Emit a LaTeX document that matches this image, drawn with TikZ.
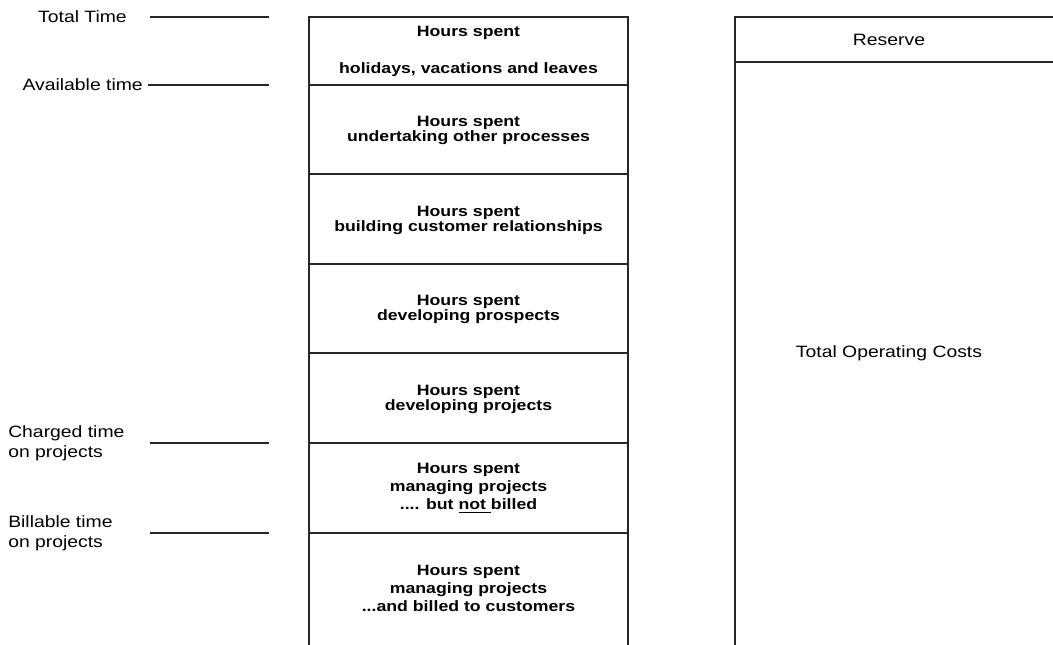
\documentclass[tikz,border=0pt]{standalone}
\usepackage{fontspec}
\setmainfont{Liberation Sans}[FakeStretch=1.18]
\begin{document}
\begin{tikzpicture}[x=0.75pt,y=-0.75pt,
  rule/.style={draw=black!85,line width=1pt},
  lab/.style={font=\fontsize{12.3}{15}\selectfont,inner sep=0pt,align=left},
  cellA/.style={font=\bfseries\fontsize{11.25}{11.25}\selectfont,inner sep=0pt,align=center},
  cellB/.style={font=\bfseries\fontsize{11.25}{13.5}\selectfont,inner sep=0pt,align=center},
  plain/.style={font=\fontsize{12.3}{15}\selectfont,inner sep=0pt}]
\useasboundingbox (0,0) rectangle (1053,644);
\clip (0,0) rectangle (1053,644);
\fill[white] (0,0) rectangle (1053,644);

% central column
\draw[rule] (309,650) -- (309,17) -- (628,17) -- (628,650);
\foreach \yy in {85,174,264,353,443,533}
  \draw[rule] (309,\yy) -- (628,\yy);

\node[cellA] (c1) at (468.5,51.5) {Hours spent\\[16.5pt]holidays, vacations and leaves};
\node[cellA] (c2) at (468.5,130.5) {Hours spent\\undertaking other processes};
\node[cellA] (c3) at (468.5,220.5) {Hours spent\\building customer relationships};
\node[cellA] (c4) at (468.5,309.5) {Hours spent\\developing prospects};
\node[cellA] (c5) at (468.5,399.5) {Hours spent\\developing projects};
\node[cellB] (c6) at (468.5,488) {Hours spent\\managing projects\\.... but \underline{not }billed};
\node[cellB] (c7) at (468.5,588) {Hours spent\\managing projects\\...and billed to customers};

% right column
\draw[rule] (735,650) -- (735,17) -- (1060,17);
\draw[rule] (735,62) -- (1060,62);
\node[plain] (res) at (889,40) {Reserve};
\node[plain] (toc) at (889,353) {Total Operating Costs};

% left labels
\node[lab,anchor=east] (tt) at (127,17) {Total Time};
\coordinate (tt1) at (150,17); \coordinate (tt2) at (269,17);
\draw[rule] (tt1) -- (tt2);
\node[lab,anchor=east] (at) at (143,85) {Available time};
\coordinate (at1) at (148,85); \coordinate (at2) at (269,85);
\draw[rule] (at1) -- (at2);
\node[lab,anchor=west] (ct) at (8,443) {Charged time\\on projects};
\coordinate (ct1) at (150,443); \coordinate (ct2) at (269,443);
\draw[rule] (ct1) -- (ct2);
\node[lab,anchor=west] (bt) at (8,533) {Billable time\\on projects};
\coordinate (bt1) at (150,533); \coordinate (bt2) at (269,533);
\draw[rule] (bt1) -- (bt2);
\end{tikzpicture}
\end{document}
